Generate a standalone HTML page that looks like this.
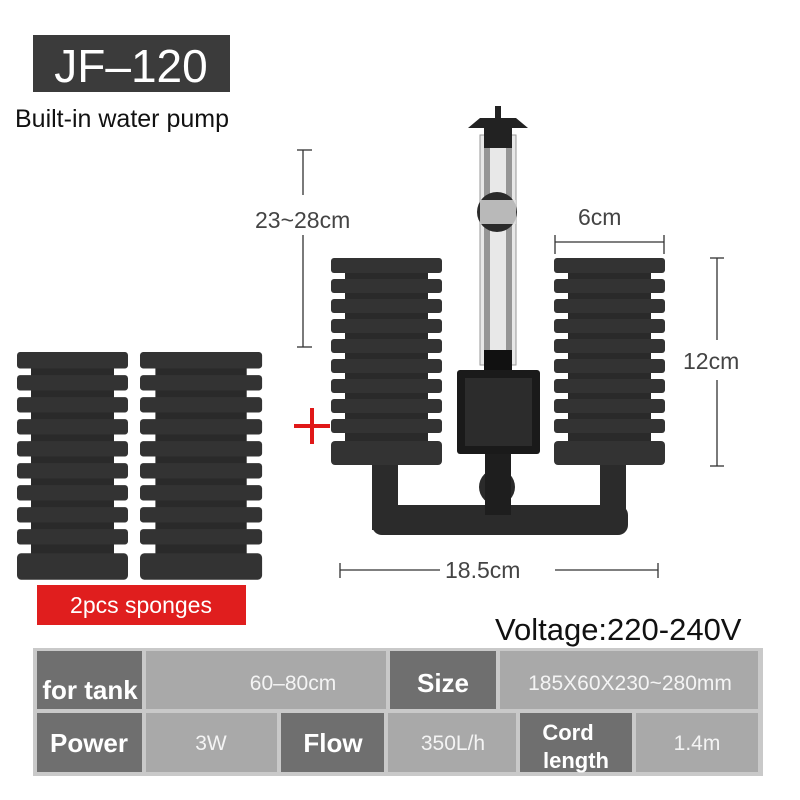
<!DOCTYPE html>
<html><head><style>
body{margin:0;background:#fff;}
svg{display:block;}
text{font-family:"Liberation Sans",sans-serif;}
</style></head><body>
<svg width="800" height="800" viewBox="0 0 800 800" xmlns="http://www.w3.org/2000/svg">
<defs>
<g id="sp">
  <rect x="14" y="0" width="83" height="206" fill="#2a2a2a"/>
  <g fill="#333">
    <rect x="0" y="0" width="111" height="15" rx="3"/>
    <rect x="0" y="21" width="111" height="14" rx="3"/>
    <rect x="0" y="41" width="111" height="14" rx="3"/>
    <rect x="0" y="61" width="111" height="14" rx="3"/>
    <rect x="0" y="81" width="111" height="14" rx="3"/>
    <rect x="0" y="101" width="111" height="14" rx="3"/>
    <rect x="0" y="121" width="111" height="14" rx="3"/>
    <rect x="0" y="141" width="111" height="14" rx="3"/>
    <rect x="0" y="161" width="111" height="14" rx="3"/>
    <rect x="0" y="183" width="111" height="24" rx="4"/>
  </g>
</g>
</defs>
<rect x="33" y="35" width="197" height="57" fill="#3b3b3b"/>
<text x="131" y="82" font-size="46" fill="#fff" text-anchor="middle">JF–120</text>
<text x="15" y="127" font-size="25" fill="#111">Built-in water pump</text>

<!-- loose sponges -->
<g transform="translate(17,352) scale(1,1.1)"><use href="#sp"/></g>
<g transform="translate(140,352) scale(1.1,1.1)"><use href="#sp"/></g>

<!-- pump -->
<rect x="480" y="135" width="36" height="230" fill="#e8e8e8" stroke="#999"/>
<rect x="484" y="140" width="6" height="220" fill="#444" opacity=".5"/>
<rect x="506" y="140" width="6" height="220" fill="#444" opacity=".5"/>
<path d="M468 128 L480 118 L516 118 L528 128 Z" fill="#222"/>
<rect x="484" y="118" width="28" height="30" fill="#222"/>
<rect x="495" y="106" width="6" height="14" fill="#222"/>
<circle cx="497" cy="212" r="20" fill="#2a2a2a"/>
<rect x="480" y="200" width="36" height="24" fill="#ddd" opacity=".8"/>
<rect x="484" y="350" width="28" height="22" fill="#111"/>
<rect x="372" y="505" width="256" height="30" rx="10" fill="#2b2b2b"/>
<rect x="372" y="460" width="26" height="70" fill="#2b2b2b"/>
<rect x="600" y="460" width="26" height="70" fill="#2b2b2b"/>
<circle cx="497" cy="487" r="18" fill="#2a2a2a"/>
<rect x="485" y="450" width="26" height="65" fill="#1e1e1e"/>
<rect x="457" y="370" width="83" height="84" rx="3" fill="#1a1a1a"/>
<rect x="465" y="378" width="67" height="68" fill="#2c2c2c"/>

<use href="#sp" x="331" y="258"/>
<use href="#sp" x="554" y="258"/>

<!-- dimensions -->
<g stroke="#333" stroke-width="1.3">
<line x1="303" y1="150" x2="303" y2="195"/><line x1="303" y1="235" x2="303" y2="347"/>
<line x1="297" y1="150" x2="312" y2="150"/><line x1="297" y1="347" x2="312" y2="347"/>
<line x1="555" y1="242" x2="664" y2="242"/><line x1="555" y1="235" x2="555" y2="254"/><line x1="664" y1="235" x2="664" y2="254"/>
<line x1="717" y1="258" x2="717" y2="340"/><line x1="717" y1="380" x2="717" y2="466"/>
<line x1="710" y1="258" x2="724" y2="258"/><line x1="710" y1="466" x2="724" y2="466"/>
<line x1="340" y1="570" x2="440" y2="570"/><line x1="555" y1="570" x2="658" y2="570"/>
<line x1="340" y1="563" x2="340" y2="578"/><line x1="658" y1="563" x2="658" y2="578"/>
</g>
<g fill="#444" font-size="23">
<text x="255" y="228">23~28cm</text>
<text x="578" y="225">6cm</text>
<text x="683" y="369">12cm</text>
<text x="445" y="578">18.5cm</text>
</g>
<g stroke="#e01818" stroke-width="4"><line x1="294" y1="426" x2="330" y2="426"/><line x1="312" y1="408" x2="312" y2="444"/></g>

<rect x="37" y="585" width="209" height="40" fill="#e01e1e"/>
<text x="141" y="613" font-size="23" fill="#fff" text-anchor="middle">2pcs sponges</text>
<text x="495" y="640" font-size="31" fill="#111">Voltage:220-240V</text>

<!-- table -->
<rect x="33" y="648" width="730" height="128" fill="#c9c9c9"/>
<g fill="#6f6f6f">
<rect x="37" y="651" width="105" height="58"/><rect x="390" y="651" width="106" height="58"/>
<rect x="37" y="713" width="105" height="59"/><rect x="281" y="713" width="103" height="59"/><rect x="520" y="713" width="112" height="59"/>
</g>
<g fill="#a9a9a9">
<rect x="146" y="651" width="240" height="58"/><rect x="500" y="651" width="258" height="58"/>
<rect x="146" y="713" width="131" height="59"/><rect x="388" y="713" width="128" height="59"/><rect x="636" y="713" width="122" height="59"/>
</g>
<g fill="#fff" font-size="26" font-weight="bold" text-anchor="middle">
<text x="90" y="699">for tank</text><text x="443" y="692">Size</text>
<text x="89" y="752">Power</text><text x="333" y="752">Flow</text>
<text x="568" y="740" font-size="22">Cord</text><text x="576" y="768" font-size="22">length</text>
</g>
<g fill="#f4f4f4" font-size="21" text-anchor="middle">
<text x="293" y="690">60–80cm</text><text x="630" y="690">185X60X230~280mm</text>
<text x="211" y="750">3W</text><text x="453" y="750">350L/h</text><text x="697" y="750">1.4m</text>
</g>
</svg>
</body></html>
